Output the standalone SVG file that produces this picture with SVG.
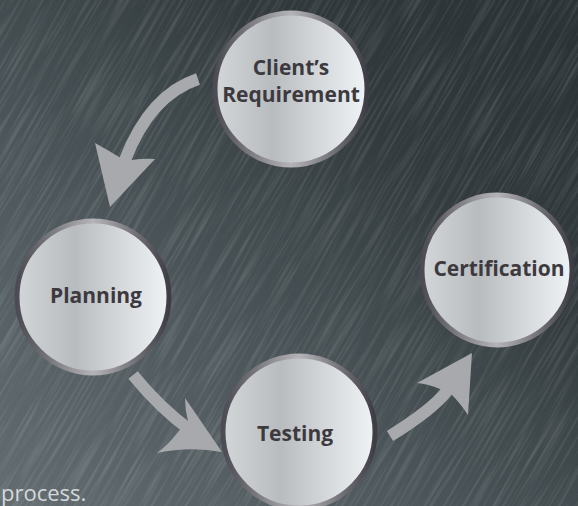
<svg xmlns="http://www.w3.org/2000/svg" width="578" height="506" viewBox="0 0 578 506">
<defs>
  <linearGradient id="bg" x1="0" y1="1" x2="1" y2="0">
    <stop offset="0" stop-color="#636d71"/>
    <stop offset="0.35" stop-color="#4e585c"/>
    <stop offset="0.7" stop-color="#323a3d"/>
    <stop offset="1" stop-color="#2a3134"/>
  </linearGradient>
  <filter id="brush" x="0" y="0" width="1" height="1" filterUnits="objectBoundingBox">
    <feTurbulence type="fractalNoise" baseFrequency="0.35 0.012" numOctaves="2" seed="7"/>
    <feColorMatrix type="matrix" values="0 0 0 0 1  0 0 0 0 1  0 0 0 0 1  0 0 0 0.9 -0.4"/>
  </filter>
  <linearGradient id="face" x1="0" y1="0" x2="1" y2="0">
    <stop offset="0" stop-color="#d2d6d8"/>
    <stop offset="0.38" stop-color="#b8bcbf"/>
    <stop offset="0.7" stop-color="#d6dadc"/>
    <stop offset="1" stop-color="#f0f3f5"/>
  </linearGradient>
  <linearGradient id="ring" x1="0" y1="0" x2="1" y2="0">
    <stop offset="0" stop-color="#4c4a52"/>
    <stop offset="0.5" stop-color="#b4b4b8"/>
    <stop offset="1" stop-color="#3e3c44"/>
  </linearGradient>
  <style>
    .node circle { fill: url(#face); stroke: url(#ring); stroke-width: 5; }
    .lbl { font-family: "Open Sans", "Noto Sans", "Liberation Sans", sans-serif; font-weight: 700; font-size: 21px; fill: #3c3a3e; text-anchor: middle; }
    .shaft { fill: none; stroke: #a7a9ac; stroke-width: 12; }
    .head { fill: #a7a9ac; }
    .foot { font-family: "Open Sans", "Noto Sans", "Liberation Sans", sans-serif; font-size: 22px; fill: #d4d8da; }
  </style>
</defs>
<rect width="578" height="506" fill="url(#bg)"/>
<g transform="rotate(30 289 253)" opacity="0.35">
  <rect x="-350" y="-350" width="1280" height="1210" filter="url(#brush)"/>
</g>

<g id="connectors">
  <path class="shaft" d="M198,79 Q150,95 125,160"/>
  <path class="head" d="M110,207 L95,143 Q108,150 119,157 L132,160 Q144,158 155,159 Z"/>
  <path class="shaft" d="M133,375 Q160,408 190,430"/>
  <path class="head" d="M222,452 L185,398 Q185,410 188,421 L178,432 Q168,445 157,453 Q190,446 222,452 Z"/>
  <path class="shaft" d="M390,436 Q432,410 447,391"/>
  <path class="head" d="M472,353 L468,415 Q460,403 452,395 L440,389 Q428,384 417,383 Z"/>
</g>

<g id="client" class="node">
  <circle cx="291" cy="89" r="76"/>
  <text class="lbl" x="291" y="75">Client’s</text>
  <text class="lbl" x="291" y="102">Requirement</text>
</g>
<g id="planning" class="node">
  <circle cx="93" cy="297" r="76"/>
  <text class="lbl" x="96" y="303">Planning</text>
</g>
<g id="testing" class="node">
  <circle cx="299" cy="432" r="76"/>
  <text class="lbl" x="295" y="441">Testing</text>
</g>
<g id="certification" class="node">
  <circle cx="497" cy="270" r="75"/>
  <text class="lbl" x="499" y="276">Certification</text>
</g>

<text class="foot" x="1" y="501">process.</text>
</svg>
